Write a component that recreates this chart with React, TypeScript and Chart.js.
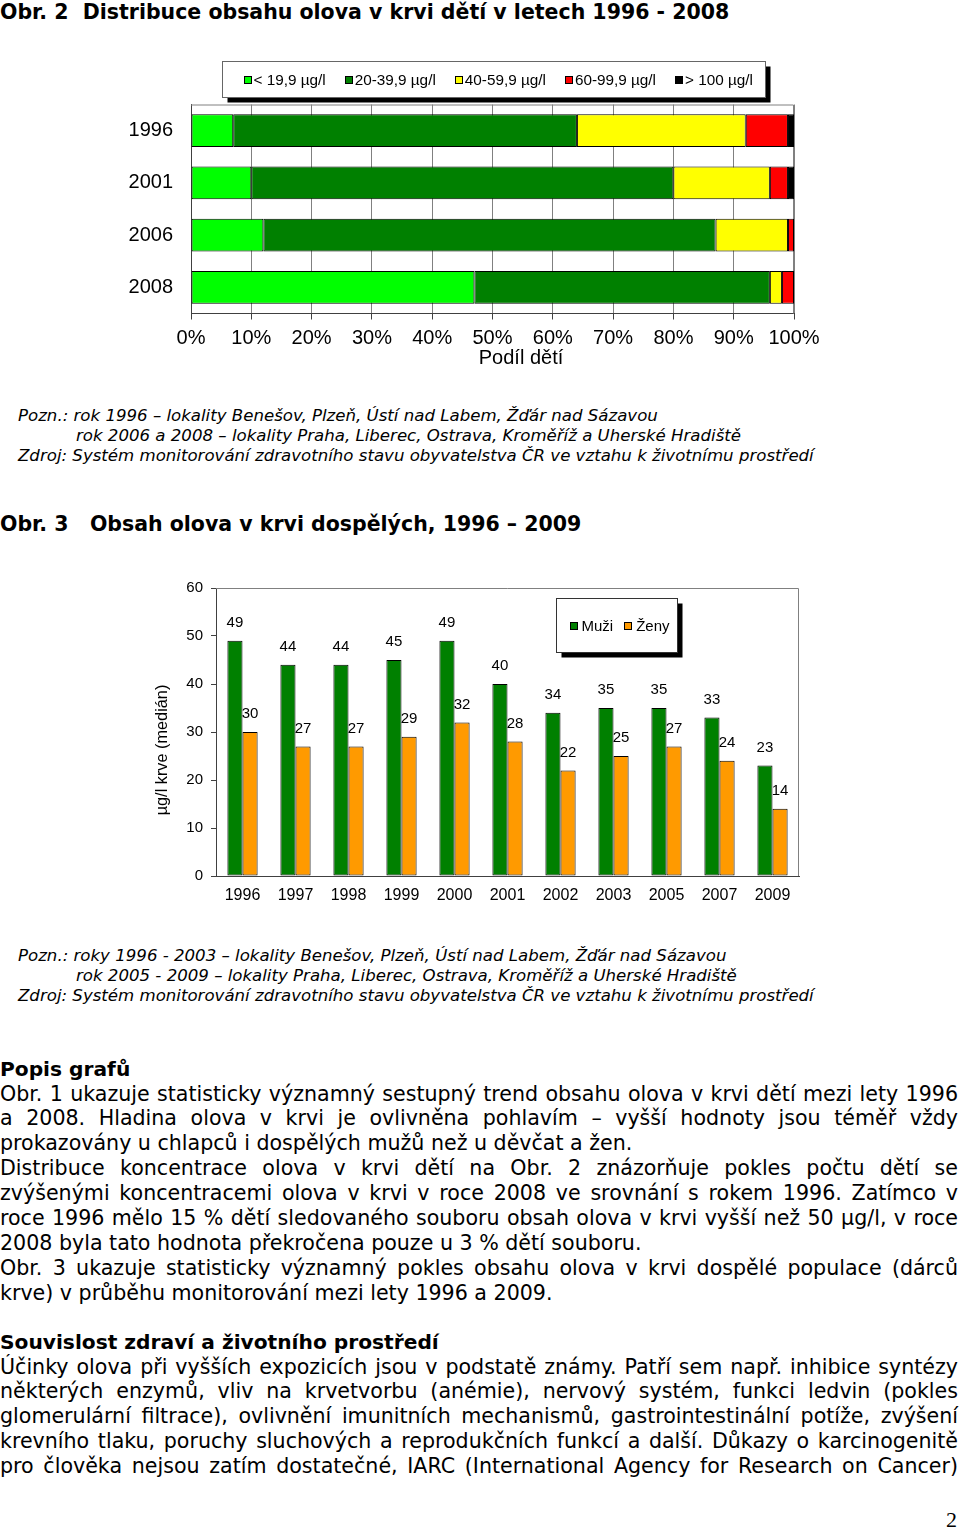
import React, { useEffect, useRef } from "react";
import { Chart, registerables } from "chart.js";

Chart.register(...registerables);

// ---------- Data: Obr. 2 (children) ----------
const childYears = ["1996", "2001", "2006", "2008"];
const childSeriesNames = ["< 19,9 µg/l", "20-39,9 µg/l", "40-59,9 µg/l", "60-99,9 µg/l", "> 100 µg/l"];
const childBelow20 = [7, 10, 12, 47];
const child20to40 = [57, 70, 75, 49];
const child40to60 = [28, 16, 12, 2];
const child60to100 = [7, 3, 1, 2];
const childOver100 = [1, 1, 0, 0];
const childColors = ["#00FF00", "#008000", "#FFFF00", "#FF0000", "#000000"];
const childAxisTitle = "Podíl dětí";

// ---------- Data: Obr. 3 (adults) ----------
const adultYears = ["1996", "1997", "1998", "1999", "2000", "2001", "2002", "2003", "2005", "2007", "2009"];
const menMedian = [49, 44, 44, 45, 49, 40, 34, 35, 35, 33, 23];
const womenMedian = [30, 27, 27, 29, 32, 28, 22, 25, 27, 24, 14];
const adultSeriesNames = ["Muži", "Ženy"];
const adultColors = ["#008000", "#FF9A00"];
const adultAxisTitle = "µg/l krve (medián)";

const CHART_FONT = '"Liberation Sans", Arial, sans-serif';

const framePlugin = {
  id: "frame",
  beforeDatasetsDraw(chart: any) {
    const { ctx, chartArea } = chart;
    ctx.save();
    ctx.strokeStyle = "#808080";
    ctx.lineWidth = 1;
    ctx.beginPath();
    ctx.moveTo(chartArea.left, chartArea.top + 0.5);
    ctx.lineTo(chartArea.right - 0.5, chartArea.top + 0.5);
    ctx.lineTo(chartArea.right - 0.5, chartArea.bottom);
    ctx.stroke();
    ctx.restore();
  },
};

// Axis title drawn with an offset from the plot centre (as in the original)
const axisTitlePlugin = {
  id: "axisTitle",
  afterDraw(chart: any, _args: any, o: any) {
    if (!o || !o.text) return;
    const { ctx, chartArea } = chart;
    ctx.save();
    ctx.font = `${o.size}px ${CHART_FONT}`;
    ctx.fillStyle = "#000";
    ctx.textAlign = "center";
    ctx.textBaseline = "middle";
    if (o.axis === "x") {
      ctx.fillText(o.text, (chartArea.left + chartArea.right) / 2 + o.dx, chartArea.bottom + o.dy);
    } else {
      ctx.translate(o.x, (chartArea.top + chartArea.bottom) / 2 + o.dy);
      ctx.rotate(-Math.PI / 2);
      ctx.fillText(o.text, 0, 0);
    }
    ctx.restore();
  },
};

const boxLegendPlugin = {
  id: "boxLegend",
  afterDraw(chart: any, _args: any, o: any) {
    const { ctx, chartArea } = chart;
    ctx.save();
    ctx.font = `${o.fontSize}px ${CHART_FONT}`;
    const items = chart.data.datasets.map((d: any) => ({ label: d.label, color: d.backgroundColor }));
    let width = o.padL + o.padR;
    items.forEach((it: any, i: number) => {
      width += o.square + o.textGap + ctx.measureText(it.label).width + (i < items.length - 1 ? o.itemGap : 0);
    });
    width = Math.round(width);
    const left = Math.round(chartArea.left + o.dx) + 0.5;
    const top = Math.round(chartArea.top + o.dy) + 0.5;
    const h = o.height;
    ctx.fillStyle = "#000";
    ctx.fillRect(left + o.shadow, top + o.shadow, width, h);
    ctx.fillStyle = "#fff";
    ctx.fillRect(left, top, width, h);
    ctx.strokeStyle = o.border;
    ctx.lineWidth = 1;
    ctx.strokeRect(left, top, width, h);
    let x = left + o.padL;
    const cy = top + h / 2;
    ctx.textBaseline = "middle";
    ctx.textAlign = "left";
    items.forEach((it: any) => {
      ctx.fillStyle = it.color;
      ctx.fillRect(Math.round(x), Math.round(cy - o.square / 2), o.square, o.square);
      ctx.strokeStyle = "#000";
      ctx.strokeRect(Math.round(x) + 0.5, Math.round(cy - o.square / 2) + 0.5, o.square - 1, o.square - 1);
      x += o.square + o.textGap;
      ctx.fillStyle = "#000";
      ctx.fillText(it.label, x, cy + 1);
      x += ctx.measureText(it.label).width + o.itemGap;
    });
    ctx.restore();
  },
};

const valueLabelPlugin = {
  id: "valueLabels",
  afterDatasetsDraw(chart: any) {
    const { ctx } = chart;
    ctx.save();
    ctx.font = `15px ${CHART_FONT}`;
    ctx.fillStyle = "#000";
    ctx.textAlign = "center";
    ctx.textBaseline = "middle";
    chart.data.datasets.forEach((ds: any, di: number) => {
      chart.getDatasetMeta(di).data.forEach((el: any, i: number) => {
        ctx.fillText(String(ds.data[i]), el.x, el.y - 18);
      });
    });
    ctx.restore();
  },
};

function ChildChart() {
  const ref = useRef<HTMLCanvasElement>(null);
  useEffect(() => {
    if (!ref.current) return;
    const series = [childBelow20, child20to40, child40to60, child60to100, childOver100];
    const chart = new Chart(ref.current, {
      type: "bar",
      data: {
        labels: childYears,
        datasets: series.map((d, i) => ({
          label: childSeriesNames[i],
          data: d,
          backgroundColor: childColors[i],
          borderColor: "#000",
          borderWidth: 1,
          borderSkipped: false,
          barPercentage: 0.63,
          categoryPercentage: 1,
        })),
      },
      options: {
        indexAxis: "y",
        responsive: false,
        animation: false,
        layout: { padding: { top: 49.5, right: 93, left: 0, bottom: 0 } },
        plugins: {
          legend: { display: false },
          tooltip: { enabled: false },
          boxLegend: {
            fontSize: 15.3, dx: 31, dy: -43.5, height: 36, padL: 21, padR: 13,
            square: 8, textGap: 2, itemGap: 19, shadow: 5, border: "#666",
          },
          axisTitle: { text: childAxisTitle, axis: "x", dx: 28.5, dy: 44.5, size: 20 },
        } as any,
        scales: {
          x: {
            stacked: true,
            min: 0,
            max: 100,
            ticks: {
              stepSize: 10,
              callback: (v: any) => v + "%",
              color: "#000",
              font: { size: 20, lineHeight: 1, family: CHART_FONT },
              padding: 8.5,
              maxRotation: 0,
              autoSkip: false,
            },
            grid: { color: "#808080", tickLength: 6, tickColor: "#404040" },
            border: { color: "#404040" },
            afterFit: (s: any) => { s.height = 61.5; },
          },
          y: {
            stacked: true,
            ticks: { color: "#000", font: { size: 20, family: CHART_FONT }, padding: 18 },
            grid: { display: false, drawTicks: false },
            border: { color: "#404040" },
            afterFit: (s: any) => { s.width = 91; },
          },
        },
      } as any,
      plugins: [framePlugin, boxLegendPlugin, axisTitlePlugin],
    });
    return () => chart.destroy();
  }, []);
  return (
    <canvas
      ref={ref}
      width={787}
      height={320}
      style={{ position: "absolute", left: 100, top: 55, width: 787, height: 320 }}
    />
  );
}

function AdultChart() {
  const ref = useRef<HTMLCanvasElement>(null);
  useEffect(() => {
    if (!ref.current) return;
    const series = [menMedian, womenMedian];
    const chart = new Chart(ref.current, {
      type: "bar",
      data: {
        labels: adultYears,
        datasets: series.map((d, i) => ({
          label: adultSeriesNames[i],
          data: d,
          backgroundColor: adultColors[i],
          borderColor: "#000",
          borderWidth: 1,
          borderSkipped: false,
          barPercentage: 1,
          categoryPercentage: 0.57,
        })),
      },
      options: {
        responsive: false,
        animation: false,
        layout: { padding: { top: 18, right: 21, left: 0, bottom: 0 } },
        plugins: {
          legend: { display: false },
          tooltip: { enabled: false },
          boxLegend: {
            fontSize: 15, dx: 340, dy: 10, height: 54, padL: 13, padR: 8,
            square: 8, textGap: 4, itemGap: 11, shadow: 5, border: "#333",
          },
          axisTitle: { text: adultAxisTitle, axis: "y", x: 23, dy: 18, size: 16.3 },
        } as any,
        scales: {
          x: {
            ticks: { color: "#000", font: { size: 16, family: CHART_FONT }, padding: 10 },
            grid: { display: true, drawOnChartArea: false, drawTicks: false },
            border: { color: "#404040" },
            afterFit: (s: any) => { s.height = 34; },
          },
          y: {
            min: 0,
            max: 60,
            ticks: { stepSize: 10, color: "#000", font: { size: 15, family: CHART_FONT }, padding: 8 },
            grid: { drawOnChartArea: false, tickLength: 5, color: "#404040" },
            border: { color: "#404040" },
            afterFit: (s: any) => { s.width = 76; },
          },
        },
      } as any,
      plugins: [framePlugin, valueLabelPlugin, boxLegendPlugin, axisTitlePlugin],
    });
    return () => chart.destroy();
  }, []);
  return (
    <canvas
      ref={ref}
      width={680}
      height={340}
      style={{ position: "absolute", left: 140, top: 570, width: 680, height: 340 }}
    />
  );
}

const BODY_FONT = '"DejaVu Sans", Verdana, sans-serif';
const NOTE_FONT = '"DejaVu Sans", Tahoma, sans-serif';

function Line(props: { top: number; left?: number; text: string; justify?: boolean; bold?: boolean; size?: number; lh?: number; italic?: boolean; font?: string }) {
  const { top, left = 0, text, justify, bold, size = 20.6, lh = 25, italic, font = BODY_FONT } = props;
  return (
    <div
      style={{
        position: "absolute",
        left,
        top,
        width: 958 - left,
        fontFamily: font,
        fontSize: size,
        lineHeight: lh + "px",
        fontWeight: bold ? "bold" : "normal",
        fontStyle: italic ? "italic" : "normal",
        whiteSpace: justify ? "nowrap" : "pre",
        textAlign: justify ? "justify" : "left",
        textAlignLast: justify ? "justify" : "left",
        color: "#000",
      } as any}
    >
      {text}
    </div>
  );
}

const section1 = [
  { t: "Obr. 1 ukazuje statisticky významný sestupný trend obsahu olova v krvi dětí mezi lety 1996", j: true },
  { t: "a 2008. Hladina olova v krvi je ovlivněna pohlavím – vyšší hodnoty jsou téměř vždy", j: true },
  { t: "prokazovány u chlapců i dospělých mužů než u děvčat a žen.", j: false },
  { t: "Distribuce koncentrace olova v krvi dětí na Obr. 2 znázorňuje pokles počtu dětí se", j: true },
  { t: "zvýšenými koncentracemi olova v krvi v roce 2008 ve srovnání s rokem 1996. Zatímco v", j: true },
  { t: "roce 1996 mělo 15 % dětí sledovaného souboru obsah olova v krvi vyšší než 50 µg/l, v roce", j: true },
  { t: "2008 byla tato hodnota překročena pouze u 3 % dětí souboru.", j: false },
  { t: "Obr. 3 ukazuje statisticky významný pokles obsahu olova v krvi dospělé populace (dárců", j: true },
  { t: "krve) v průběhu monitorování mezi lety 1996 a 2009.", j: false },
];

const section2 = [
  "Účinky olova při vyšších expozicích jsou v podstatě známy. Patří sem např. inhibice syntézy",
  "některých enzymů, vliv na krvetvorbu (anémie), nervový systém, funkci ledvin (pokles",
  "glomerulární filtrace), ovlivnění imunitních mechanismů, gastrointestinální potíže, zvýšení",
  "krevního tlaku, poruchy sluchových a reprodukčních funkcí a další. Důkazy o karcinogenitě",
  "pro člověka nejsou zatím dostatečné, IARC (International Agency for Research on Cancer)",
];

const NOTE_SIZE = 16.6;

export default function App() {
  return (
    <div style={{ position: "absolute", left: 0, top: 0, width: 960, height: 1530, background: "#fff", overflow: "hidden" }}>
      <Line top={-0.5} text={"Obr. 2  Distribuce obsahu olova v krvi dětí v letech 1996 - 2008"} bold size={20.5} />
      <ChildChart />
      <Line top={406} left={18} font={NOTE_FONT} italic size={NOTE_SIZE} lh={20} text="Pozn.: rok 1996 – lokality Benešov, Plzeň, Ústí nad Labem, Žďár nad Sázavou" />
      <Line top={426} left={76} font={NOTE_FONT} italic size={NOTE_SIZE} lh={20} text="rok 2006 a 2008 – lokality Praha, Liberec, Ostrava, Kroměříž a Uherské Hradiště" />
      <Line top={446} left={18} font={NOTE_FONT} italic size={NOTE_SIZE} lh={20} text="Zdroj: Systém monitorování zdravotního stavu obyvatelstva ČR ve vztahu k životnímu prostředí" />

      <Line top={512} text={"Obr. 3   Obsah olova v krvi dospělých, 1996 – 2009"} bold size={20.5} />
      <AdultChart />
      <Line top={946} left={18} font={NOTE_FONT} italic size={NOTE_SIZE} lh={20} text="Pozn.: roky 1996 - 2003 – lokality Benešov, Plzeň, Ústí nad Labem, Žďár nad Sázavou" />
      <Line top={966} left={76} font={NOTE_FONT} italic size={NOTE_SIZE} lh={20} text="rok 2005 - 2009 – lokality Praha, Liberec, Ostrava, Kroměříž a Uherské Hradiště" />
      <Line top={986} left={18} font={NOTE_FONT} italic size={NOTE_SIZE} lh={20} text="Zdroj: Systém monitorování zdravotního stavu obyvatelstva ČR ve vztahu k životnímu prostředí" />

      <Line top={1056.5} text="Popis grafů" bold size={20.2} />
      {section1.map((l, i) => (
        <Line key={"s1" + i} top={1081.5 + i * 24.9} text={l.t} justify={l.j} />
      ))}
      <Line top={1329.5} text="Souvislost zdraví a životního prostředí" bold size={20.2} />
      {section2.map((t, i) => (
        <Line key={"s2" + i} top={1354.5 + i * 24.9} text={t} justify />
      ))}
      <div style={{ position: "absolute", left: 946, top: 1506, fontFamily: '"Liberation Serif", "DejaVu Serif", serif', fontSize: 22, lineHeight: "28px", color: "#000" }}>2</div>
    </div>
  );
}
